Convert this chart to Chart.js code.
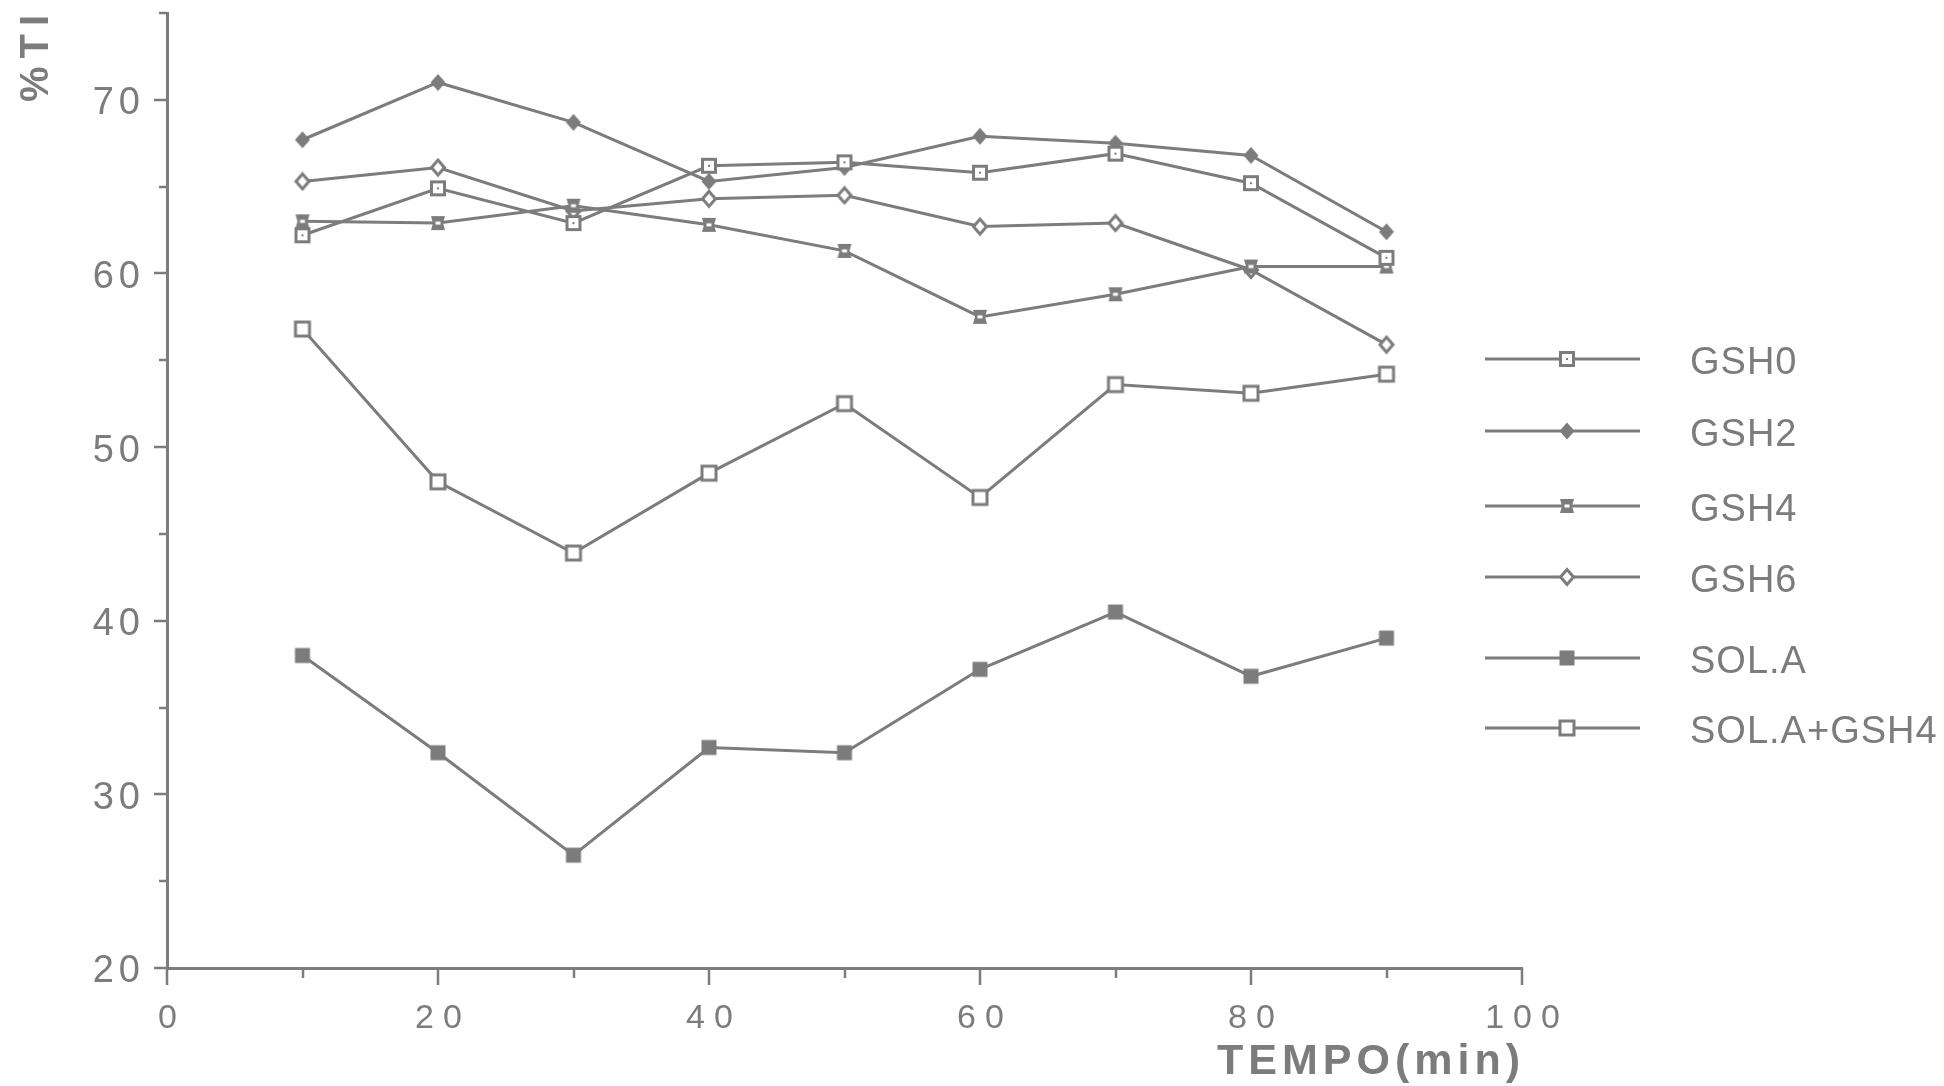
<!DOCTYPE html>
<html>
<head>
<meta charset="utf-8">
<script src="https://cdn.jsdelivr.net/npm/chart.js@4.4.1/dist/chart.umd.min.js"></script>
<style>
  html, body { margin: 0; padding: 0; background: #ffffff; }
  canvas { display: block; }
</style>
</head>
<body>
<canvas id="chart" width="1944" height="1086"></canvas>
<script>
// Sampling times (min)
const times = [10, 20, 30, 40, 50, 60, 70, 80, 90];

// Series names (legend order)
const seriesNames = ['GSH0', 'GSH2', 'GSH4', 'GSH6', 'SOL.A', 'SOL.A+GSH4'];

// %T values per series
const gsh0    = [62.2, 64.9, 62.9, 66.2, 66.4, 65.8, 66.9, 65.2, 60.9];
const gsh2    = [67.7, 71.0, 68.7, 65.3, 66.1, 67.9, 67.5, 66.8, 62.4];
const gsh4    = [63.0, 62.9, 63.9, 62.8, 61.3, 57.5, 58.8, 60.4, 60.4];
const gsh6    = [65.3, 66.1, 63.6, 64.3, 64.5, 62.7, 62.9, 60.2, 55.9];
const solA    = [38.0, 32.4, 26.5, 32.7, 32.4, 37.2, 40.5, 36.8, 39.0];
const solAgsh = [56.8, 48.0, 43.9, 48.5, 52.5, 47.1, 53.6, 53.1, 54.2];

// Axis tick labels
const xTickLabels = [0, 20, 40, 60, 80, 100];
const yTickLabels = [20, 30, 40, 50, 60, 70];

const axisTitleX = 'TEMPO(min)';
const axisTitleY = '%TI';

const INK = '#7c7c7c';
const FONT = '"Liberation Sans", Arial, Helvetica, sans-serif';

// ---- marker glyphs ----
function makeMarker(draw) {
  const c = document.createElement('canvas');
  c.width = 20; c.height = 20;
  const g = c.getContext('2d');
  g.fillStyle = INK; g.strokeStyle = INK; g.lineWidth = 3;
  draw(g);
  return c;
}
const markers = [
  // open square with a centre dot
  makeMarker(g => {
    g.fillStyle = '#fff'; g.fillRect(3.5, 3.5, 13, 13);
    g.strokeRect(3.5, 3.5, 13, 13);
    g.fillStyle = INK; g.fillRect(9, 9, 2, 2);
  }),
  // filled diamond
  makeMarker(g => {
    g.beginPath(); g.moveTo(10, 1.5); g.lineTo(17.5, 10); g.lineTo(10, 18.5); g.lineTo(2.5, 10); g.closePath(); g.fill();
  }),
  // hourglass square
  makeMarker(g => {
    g.beginPath(); g.moveTo(3, 3); g.lineTo(17, 3); g.lineTo(15, 10); g.lineTo(17, 17); g.lineTo(3, 17); g.lineTo(5, 10); g.closePath(); g.fill();
    g.fillStyle = '#fff'; g.fillRect(7.5, 8.5, 5, 3);
  }),
  // open diamond
  makeMarker(g => {
    g.beginPath(); g.moveTo(10, 2.5); g.lineTo(16.5, 10); g.lineTo(10, 17.5); g.lineTo(3.5, 10); g.closePath();
    g.fillStyle = '#fff'; g.fill(); g.stroke();
  }),
  // filled square
  makeMarker(g => { g.fillRect(2.5, 2.5, 15, 15); }),
  // open square
  makeMarker(g => {
    g.fillStyle = '#fff'; g.fillRect(3, 3, 14, 14);
    g.strokeRect(3, 3, 14, 14);
  })
];

const allValues = [gsh0, gsh2, gsh4, gsh6, solA, solAgsh];

const datasets = allValues.map((vals, i) => ({
  label: seriesNames[i],
  data: times.map((t, k) => ({ x: t, y: vals[k] })),
  borderColor: INK,
  backgroundColor: INK,
  borderWidth: 3,
  tension: 0,
  pointStyle: markers[i],
  pointRadius: 8,
  fill: false
}));

// letter spacing: y labels are drawn before the datasets, x labels after
const spacingPlugin = {
  id: 'spacing',
  beforeUpdate(chart) { chart.ctx.letterSpacing = '5px'; },
  beforeLayout(chart) { chart.ctx.letterSpacing = '5px'; },
  beforeDraw(chart) { chart.ctx.letterSpacing = '5px'; },
  afterDatasetsDraw(chart) { chart.ctx.letterSpacing = '9px'; }
};

// axis tick marks (long at labelled values, short in between)
const tickMarkPlugin = {
  id: 'tickMarks',
  afterDraw(chart) {
    const { ctx, scales: { x, y }, chartArea } = chart;
    ctx.save();
    ctx.strokeStyle = INK;
    ctx.lineWidth = 2.5;
    ctx.beginPath();
    for (let v = x.min; v <= x.max; v += 10) {
      const px = Math.round(x.getPixelForValue(v));
      const len = xTickLabels.includes(v) ? 17 : 10;
      ctx.moveTo(px, chartArea.bottom);
      ctx.lineTo(px, chartArea.bottom + len);
    }
    for (let v = y.min; v <= y.max; v += 5) {
      const py = Math.round(y.getPixelForValue(v));
      const len = yTickLabels.includes(v) ? 13 : 8;
      ctx.moveTo(chartArea.left - len, py);
      ctx.lineTo(chartArea.left, py);
    }
    ctx.stroke();
    ctx.restore();
  }
};

// axis titles and legend
const decorPlugin = {
  id: 'decor',
  afterDraw(chart) {
    const { ctx } = chart;
    ctx.save();
    ctx.fillStyle = INK;

    // x title
    ctx.letterSpacing = '5px';
    ctx.font = 'bold 43px ' + FONT;
    ctx.textAlign = 'left';
    ctx.textBaseline = 'alphabetic';
    ctx.fillText(axisTitleX, 1217, 1074);

    // y title (rotated)
    ctx.save();
    ctx.translate(48, 102);
    ctx.rotate(-Math.PI / 2);
    ctx.letterSpacing = '8px';
    ctx.font = 'bold 40px ' + FONT;
    ctx.fillText(axisTitleY, 0, 0);
    ctx.restore();

    // legend
    const rowsY = [359, 431, 506, 577, 658, 728];
    ctx.letterSpacing = '1px';
    ctx.font = '38px ' + FONT;
    ctx.textBaseline = 'middle';
    ctx.strokeStyle = INK;
    ctx.lineWidth = 3;
    chart.data.datasets.forEach((ds, i) => {
      const yy = rowsY[i];
      ctx.beginPath();
      ctx.moveTo(1485, yy);
      ctx.lineTo(1640, yy);
      ctx.stroke();
      const m = ds.pointStyle;
      ctx.drawImage(m, 1567 - m.width / 2, yy - m.height / 2);
      ctx.fillText(ds.label, 1690, yy + 5);
    });
    ctx.restore();
  }
};

new Chart(document.getElementById('chart'), {
  type: 'line',
  data: { datasets },
  options: {
    responsive: false,
    animation: false,
    devicePixelRatio: 1,
    layout: { padding: { top: 13, right: 422, left: 0, bottom: 0 } },
    plugins: {
      legend: { display: false },
      tooltip: { enabled: false },
      title: { display: false }
    },
    scales: {
      x: {
        type: 'linear',
        min: 0, max: 100,
        grid: { display: true, drawOnChartArea: false, drawTicks: false },
        border: { display: true, color: INK, width: 3 },
        ticks: {
          z: 1,
          stepSize: 10,
          autoSkip: false,
          maxRotation: 0,
          padding: 30,
          labelOffset: 5,
          color: INK,
          font: { family: FONT, size: 34 },
          callback: v => (xTickLabels.includes(v) ? String(v) : '')
        },
        afterFit(scale) { scale.height = 118; }
      },
      y: {
        type: 'linear',
        min: 20, max: 75,
        grid: { display: true, drawOnChartArea: false, drawTicks: false },
        border: { display: true, color: INK, width: 3 },
        ticks: {
          stepSize: 5,
          autoSkip: false,
          padding: 22,
          labelOffset: 4,
          color: INK,
          font: { family: FONT, size: 38 },
          callback: v => (yTickLabels.includes(v) ? String(v) : '')
        },
        afterFit(scale) {
          scale.width = 167;
          scale.paddingTop = 0;
          scale.paddingBottom = 0;
        }
      }
    }
  },
  plugins: [spacingPlugin, tickMarkPlugin, decorPlugin]
});
</script>
</body>
</html>
